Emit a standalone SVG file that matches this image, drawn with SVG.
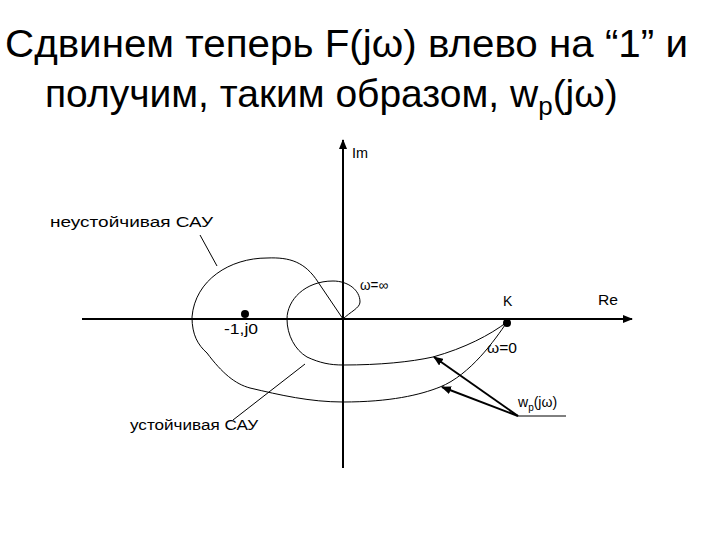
<svg xmlns="http://www.w3.org/2000/svg" width="720" height="540" viewBox="0 0 720 540">
<style>
.t{font-family:"Liberation Sans",Arial,sans-serif;fill:#000}
.s{font-size:14px}
.c{fill:none;stroke:#000;stroke-width:1}
.ax{stroke:#000;stroke-width:2}
</style>
<defs>
<marker id="a" markerWidth="10" markerHeight="8" refX="9" refY="4" orient="auto" markerUnits="userSpaceOnUse"><path d="M0,0L10,4L0,8z" fill="#000"/></marker>
</defs>
<rect width="720" height="540" fill="#fff"/>
<text class="t" x="5" y="57" font-size="39" textLength="683" lengthAdjust="spacingAndGlyphs">Сдвинем теперь F(jω) влево на “1” и</text>
<text class="t" x="45" y="107" font-size="39">получим, таким образом, w<tspan font-size="26" dy="8">p</tspan><tspan dy="-8">(jω)</tspan></text>
<g id="axes">
<line class="ax" x1="82" y1="319" x2="632" y2="319" marker-end="url(#a)"/>
<line class="ax" x1="343" y1="468" x2="343" y2="140" marker-end="url(#a)"/>
<text class="t s" x="352" y="158" textLength="16" lengthAdjust="spacingAndGlyphs">Im</text>
<text class="t s" x="598" y="305" textLength="20" lengthAdjust="spacingAndGlyphs">Re</text>
</g>
<g id="unstable">
<path class="c" d="M343,319 L318,282 C305,262 290,257 267,258 C230,258 195,280 192,317 C192,335 198,345 207,353 C222,373 235,384 250,388 C280,395 310,402 343,402 C390,402 420,395 440,387 C470,375 495,340 507,322"/>
<line class="c" x1="200" y1="235" x2="217" y2="266"/>
<text class="t s" x="50" y="227" textLength="163" lengthAdjust="spacingAndGlyphs">неустойчивая САУ</text>
</g>
<g id="stable">
<path class="c" d="M343,319 C350,312 360,308 360,302 C360,290 348,281 333,281 C305,281 287,300 287,319 C287,335 295,350 307,357 C320,363 330,365 343,365 C380,365 410,362 433,357 C465,348 490,335 507,322"/>
<line class="c" x1="305" y1="364" x2="233" y2="420"/>
<text class="t s" x="130" y="430" textLength="128" lengthAdjust="spacingAndGlyphs">устойчивая САУ</text>
</g>
<g id="points">
<circle cx="245" cy="314" r="4"/>
<text class="t s" x="224" y="334" textLength="34" lengthAdjust="spacingAndGlyphs">-1,j0</text>
<circle cx="507" cy="323" r="4"/>
<text class="t s" x="503" y="306">K</text>
<text class="t s" x="360" y="290" textLength="28" lengthAdjust="spacingAndGlyphs">ω=∞</text>
<text class="t s" x="487" y="353" textLength="30" lengthAdjust="spacingAndGlyphs">ω=0</text>
</g>
<g id="connectors">
<line x1="518" y1="416" x2="434" y2="357" stroke="#000" stroke-width="2" marker-end="url(#a)"/>
<line x1="518" y1="416" x2="442" y2="387" stroke="#000" stroke-width="2" marker-end="url(#a)"/>
<line class="c" x1="518" y1="416" x2="566" y2="416"/>
<text class="t s" x="518" y="407">w<tspan font-size="10" dy="4">p</tspan><tspan dy="-4">(jω)</tspan></text>
</g>
</svg>
